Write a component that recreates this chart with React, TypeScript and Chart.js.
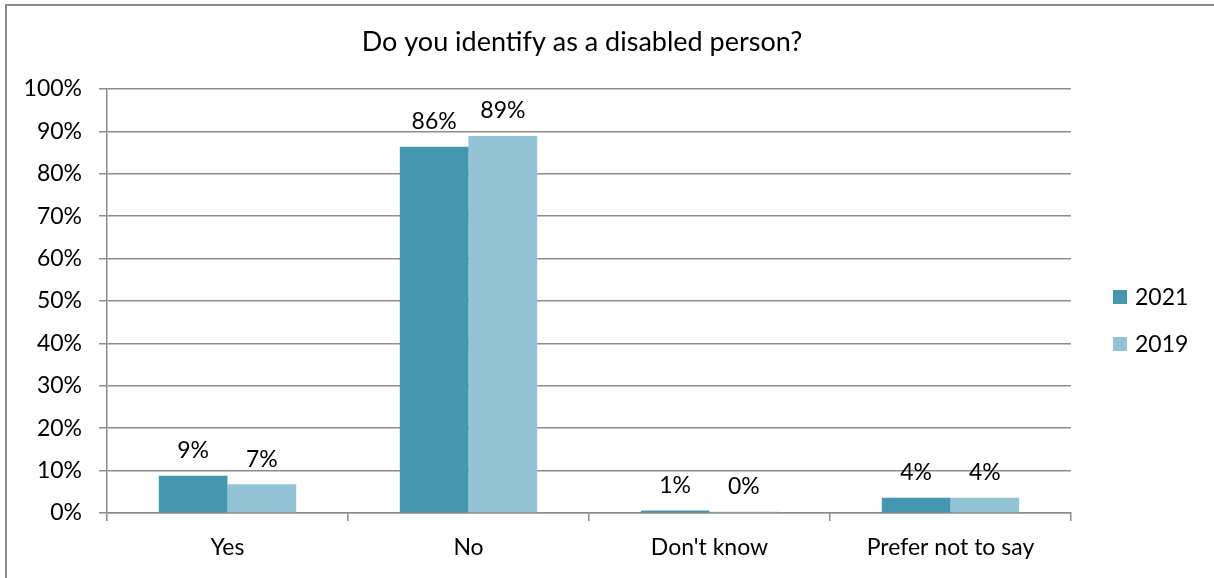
import React, { useEffect, useRef } from "react";
import { Chart, registerables } from "chart.js";

Chart.register(...registerables);

const categories = ["Yes", "No", "Don't know", "Prefer not to say"];
const series2021 = [8.8, 86.4, 0.6, 3.6];
const series2019 = [6.8, 88.9, 0.3, 3.6];
const labels2021 = ["9%", "86%", "1%", "4%"];
const labels2019 = ["7%", "89%", "0%", "4%"];
const seriesNames = ["2021", "2019"];
const colors = ["#4398AF", "#93C4D6"];
const titleText = "Do you identify as a disabled person?";

const TICK_FONT = "Lato";

export default function App() {
  const ref = useRef<HTMLCanvasElement | null>(null);

  useEffect(() => {
    document.body.style.margin = "0";
    const canvas = ref.current;
    if (!canvas) return;

    const decor = {
      id: "decor",
      afterDraw(chart: any) {
        const ctx = chart.ctx;
        ctx.save();
        // frame
        ctx.strokeStyle = "#8c8c8c";
        ctx.lineWidth = 2;
        ctx.beginPath();
        ctx.moveTo(6, 600);
        ctx.lineTo(6, 5);
        ctx.lineTo(1230, 5);
        ctx.stroke();
        // title
        ctx.fillStyle = "#000";
        ctx.font = `27px Lato`;
        ctx.textAlign = "center";
        ctx.textBaseline = "middle";
        ctx.fillText(titleText, 582, 42);
        // data labels
        ctx.font = `23px ${TICK_FONT}`;
        ctx.fillStyle = "#000";
        const lbls = [labels2021, labels2019];
        chart.data.datasets.forEach((_: any, di: number) => {
          const meta = chart.getDatasetMeta(di);
          meta.data.forEach((bar: any, i: number) => {
            ctx.fillText(lbls[di][i], bar.x, bar.y - 25);
          });
        });
        // legend
        ctx.textAlign = "left";
        const ys = [297, 344];
        seriesNames.forEach((n, i) => {
          ctx.fillStyle = colors[i];
          ctx.fillRect(1113, ys[i] - 7, 14, 14);
          ctx.fillStyle = "#000";
          ctx.fillText(n, 1135, ys[i] + 1);
        });
        ctx.restore();
      },
    };

    const chart = new Chart(canvas, {
      type: "bar",
      data: {
        labels: categories,
        datasets: [
          { label: seriesNames[0], data: series2021, backgroundColor: colors[0] },
          { label: seriesNames[1], data: series2019, backgroundColor: colors[1] },
        ],
      },
      options: {
        animation: false,
        responsive: true,
        maintainAspectRatio: false,
        layout: { padding: { left: 0, right: 143, top: 89, bottom: 0 } },
        datasets: { bar: { categoryPercentage: 0.57, barPercentage: 1 } } as any,
        plugins: {
          legend: { display: false },
          title: { display: false },
          tooltip: { enabled: false },
        },
        scales: {
          x: {
            afterFit: (s: any) => {
              s.height = 65;
            },
            grid: {
              drawOnChartArea: false,
              drawTicks: true,
              tickLength: 8,
              color: "#8c8c8c",
              lineWidth: 1.5,
              offset: true,
            },
            border: { display: true, color: "#8c8c8c", width: 1.5 },
            ticks: {
              color: "#000",
              font: { family: TICK_FONT, size: 23 },
              padding: 13,
              maxRotation: 0,
            },
          },
          y: {
            min: 0,
            max: 100,
            afterFit: (s: any) => {
              s.width = 107;
            },
            grid: {
              color: "#8c8c8c",
              lineWidth: 1.5,
              drawTicks: true,
              tickLength: 8,
            },
            border: { display: true, color: "#8c8c8c", width: 1.5 },
            ticks: {
              stepSize: 10,
              color: "#000",
              font: { family: TICK_FONT, size: 23 },
              padding: 17,
              callback: (v: any) => `${v}%`,
            },
          },
        },
      },
      plugins: [decor],
    });
    return () => chart.destroy();
  }, []);

  return (
    <div style={{ position: "fixed", left: 0, top: 0, width: 1214, height: 578, background: "#fff" }}>
      <canvas ref={ref} />
    </div>
  );
}
